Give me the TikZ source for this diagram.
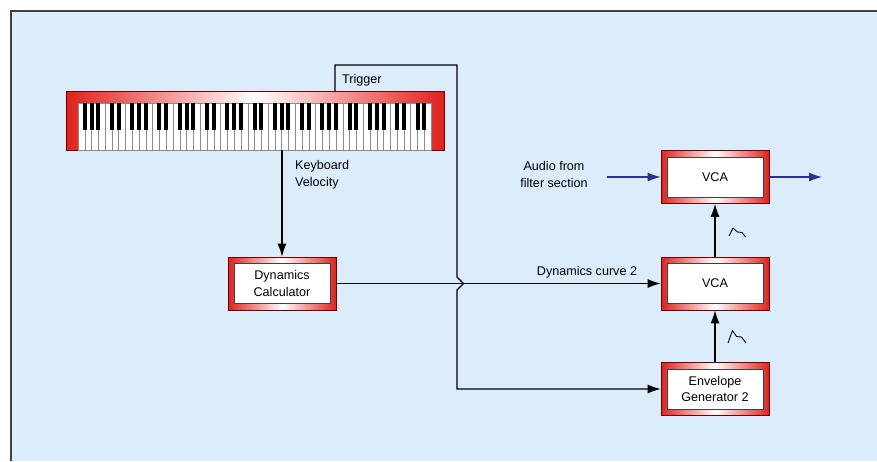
\documentclass[tikz,border=0pt]{standalone}
\usepackage{fontspec}
\setmainfont{Liberation Sans}
\usetikzlibrary{arrows.meta}
\definecolor{panel}{HTML}{DBEDFB}
\definecolor{rouge}{HTML}{E2211C}
\definecolor{bleu}{HTML}{2E3192}
\newcommand{\touche}{6.79}
\newcommand{\whitekey}[1]{\draw[black!45,fill=white,line width=0.5pt] (78+#1*\touche,103) rectangle ++(\touche,47)}
\newcommand{\blackkey}[1]{\fill[black] (78+#1*\touche-2,103) rectangle ++(4,27)}
\tikzset{
  cadre/.style={inner sep=0pt, draw=red!45!black, line width=0.6pt,
    left color=rouge, right color=rouge, middle color=white},
  bloc/.style={cadre, minimum width=108pt, minimum height=53pt},
  texte/.style={inner sep=0pt, minimum width=96pt, minimum height=40pt,
    draw=black!75, line width=0.6pt, fill=white, align=center},
  etiquette/.style={inner sep=0pt, align=left},
  fleche/.style={line width=1.3pt, -{Latex[length=13pt,width=9pt]}}
}

\begin{document}
\begin{tikzpicture}[x=1pt, y=-1pt, font=\fontsize{12.6}{16.5}\selectfont]
\useasboundingbox (0,0) rectangle (877,461);
%Background
	\fill[panel] (11,11) rectangle (877,461);
	\draw[black!75, line width=1.5pt] (11,461) -- (11,11) -- (877,11);
%The keyboard
	\node[cadre, minimum width=378pt, minimum height=59pt] (kbd) at (255,120.5) {};
	\foreach \k in {0,...,51} {\whitekey{\k};}
	\foreach \o in {0,...,7} {
		\foreach \b in {1,2,3,5,6} {
			\pgfmathtruncatemacro{\n}{7*\o+\b}
			\ifnum\n<52 \blackkey{\n};\fi
		}
	}
	\coordinate (trig) at (335,91);
	\coordinate (coude) at (457,65);
	\coordinate (velo) at (282,150);
%Blocks
	\node[bloc] (dyn) at (282,283.5) {};
	\node[texte] (dyntxt) at (dyn) {Dynamics\\Calculator};
	\node[bloc] (vcat) at (715,177) {};
	\node[texte] (vcattxt) at (vcat) {VCA};
	\node[bloc] (vcam) at (715,283.5) {};
	\node[texte] (vcamtxt) at (vcam) {VCA};
	\node[bloc] (env) at (715,389) {};
	\node[texte] (envtxt) at (env) {Envelope\\Generator 2};
%Labels
	\node[etiquette, anchor=west] (trigger) at (342,80) {Trigger};
	\node[etiquette, anchor=west] (velocity) at (295,174.5) {Keyboard\\Velocity};
	\node[etiquette, align=center] (audio) at (554,174.5) {Audio from\\filter section};
	\node[etiquette] (courbe) at (587,272) {Dynamics curve 2};
%Connections
	\draw[fleche] (velo) -- (dyn.north);
	\draw[fleche] (dyn.east) -- (vcam.west);
	\draw[fleche] (trig) |- (coude) -- ++(0,212) -- ++(6.5,6.5) -- ++(-6.5,6.5) |- (env.west);
	\draw[fleche] (env.north) -- (vcam.south);
	\draw[fleche] (vcam.north) -- (vcat.south);
	\coordinate (audioin) at (607,177);
	\coordinate (audioout) at (822,177);
	\draw[fleche, bleu] (audioin) -- (vcat.west);
	\draw[fleche, bleu] (vcat.east) -- (audioout);
%Envelope shapes
	\draw[line width=0.9pt, line join=round] (729,236) -- (733,228) -- (737.5,232) -- (742,232.5) -- (745.5,237);
	\draw[line width=0.9pt, line join=round] (728,343) -- (732.5,330.5) -- (736.5,336.5) -- (741.5,337) -- (746,343);
\end{tikzpicture}
\end{document}
